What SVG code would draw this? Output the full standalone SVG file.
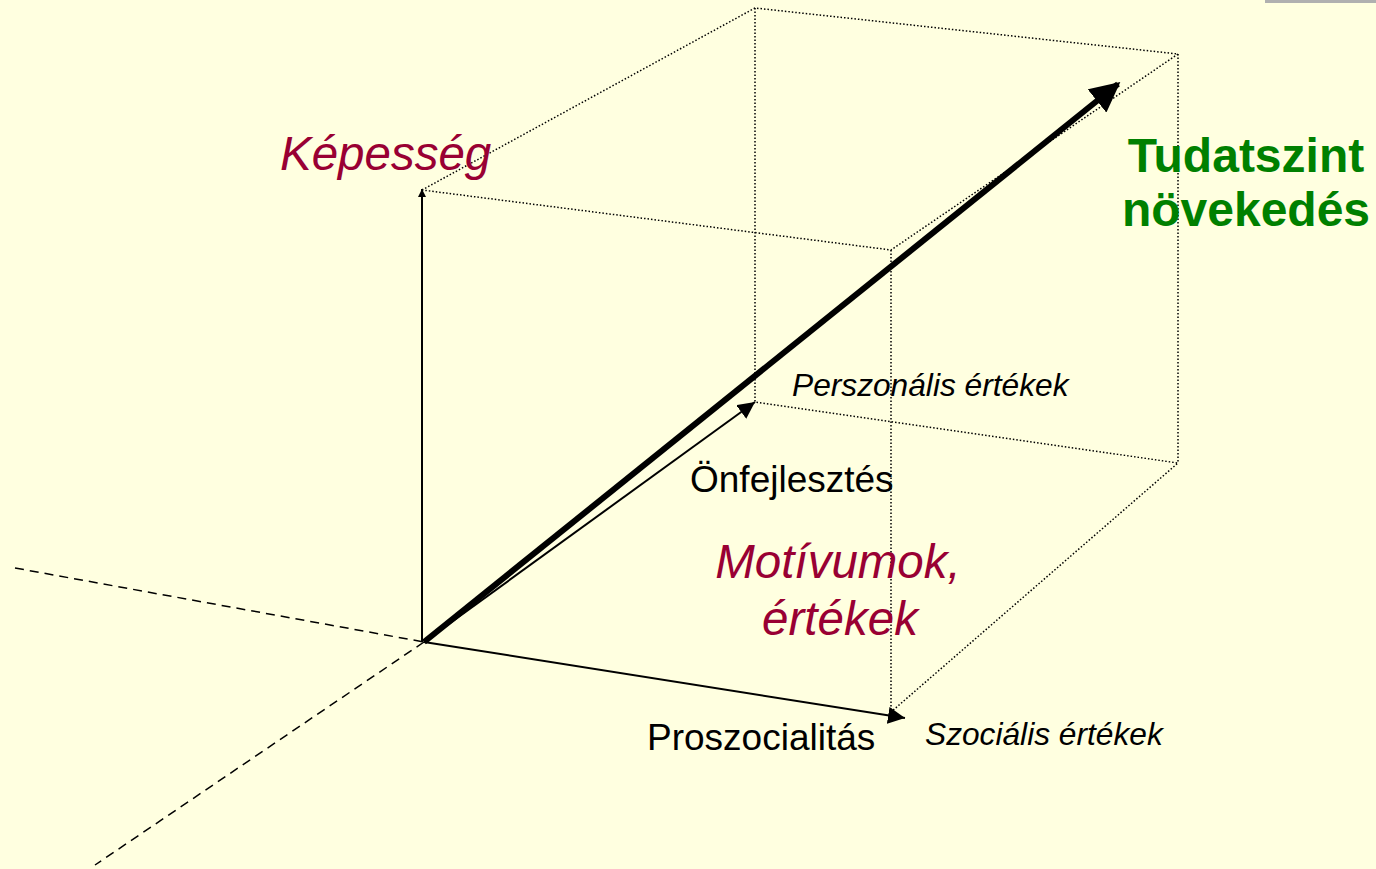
<svg xmlns="http://www.w3.org/2000/svg" width="1376" height="869" viewBox="0 0 1376 869">
<defs>
<style>
.dot{stroke:#000;stroke-width:1.5;stroke-dasharray:1.5 2;fill:none}
.dash{stroke:#000;stroke-width:1.5;stroke-dasharray:9 6;fill:none}
.axis{stroke:#000;stroke-width:2;fill:none}
.lbl{font-family:"Liberation Sans",Arial,sans-serif}
.red{fill:#990033;font-style:italic}
.green{fill:#008000;font-weight:bold}
</style>
<marker id="ah" viewBox="0 0 10 10" refX="10" refY="5" markerWidth="8" markerHeight="8" markerUnits="userSpaceOnUse" orient="auto"><path d="M0,0 L10,5 L0,10 z" fill="#000"/></marker>
<marker id="ah2" viewBox="0 0 10 10" refX="10" refY="5" markerWidth="17" markerHeight="17" markerUnits="userSpaceOnUse" orient="auto"><path d="M0,0 L10,5 L0,10 z" fill="#000"/></marker>
<marker id="ahB" viewBox="0 0 10 10" refX="9" refY="5" markerWidth="5" markerHeight="5" orient="auto"><path d="M0,0 L10,5 L0,10 z" fill="#000"/></marker>
</defs>
<rect width="1376" height="869" fill="#FFFFE0"/>
<rect x="1265" y="0" width="111" height="3" fill="#B0B0B0"/>
<g id="connectors">
<path class="dash" d="M15,568 L424,642"/>
<path class="dash" d="M424,642 L95,865"/>
<path class="dot" d="M422,190 L755,8 L1178,54 L891,250 L422,190"/>
<path class="dot" d="M755,8 L755,402 L1178,463 L891,712"/>
<path class="dot" d="M1178,54 L1178,463"/>
<path class="dot" d="M891,250 L891,712"/>
<line class="axis" x1="422" y1="642" x2="422" y2="189" marker-end="url(#ah)"/>
<line class="axis" x1="424" y1="642" x2="755" y2="402" marker-end="url(#ah2)"/>
<line class="axis" x1="424" y1="642" x2="905" y2="718" marker-end="url(#ah2)"/>
<line x1="424" y1="642" x2="1118" y2="84" stroke="#000" stroke-width="6" marker-end="url(#ahB)"/>
</g>
<g id="kepesseg"><text class="lbl red" x="280" y="170" font-size="47.5">Képesség</text></g>
<g id="tudatszint"><text class="lbl green" x="1246" y="172" font-size="48" text-anchor="middle">Tudatszint</text><text class="lbl green" x="1246" y="226" font-size="48" text-anchor="middle">növekedés</text></g>
<g id="perszonalis"><text class="lbl" x="792" y="396" font-size="31.7" font-style="italic">Perszonális értékek</text></g>
<g id="onfejlesztes"><text class="lbl" x="690" y="492" font-size="37">Önfejlesztés</text></g>
<g id="motivumok"><text class="lbl red" x="838" y="578" font-size="47.5" text-anchor="middle">Motívumok,</text><text class="lbl red" x="840" y="635" font-size="47.5" text-anchor="middle">értékek</text></g>
<g id="proszocialitas"><text class="lbl" x="647" y="750" font-size="37">Proszocialitás</text></g>
<g id="szocialis"><text class="lbl" x="925" y="745" font-size="31.7" font-style="italic">Szociális értékek</text></g>
</svg>
